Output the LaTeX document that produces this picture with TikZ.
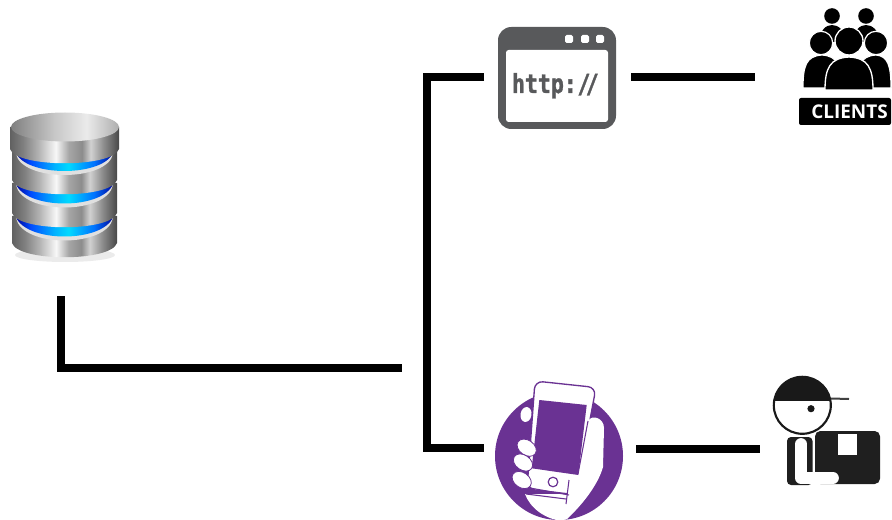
\documentclass[tikz,border=0pt]{standalone}
\usepackage{fontspec}
\usetikzlibrary{calc}
\newfontfamily\monofnt[FakeStretch=0.82,FakeBold=1.2]{DejaVu Sans Mono Bold}
\newfontfamily\capsfnt{Open Sans}
\definecolor{webgray}{HTML}{58595B}
\definecolor{plum}{HTML}{6A3293}
\pgfdeclarehorizontalshading{metal}{100bp}{
 color(0bp)=(black!62);color(25bp)=(black!62);color(31bp)=(black!50);color(38bp)=(black!30);color(46bp)=(black!3);color(52bp)=(black!35);color(58bp)=(black!45);color(62bp)=(black!18);color(68bp)=(black!45);color(75bp)=(black!72);color(100bp)=(black!72)}
\pgfdeclarehorizontalshading{glow}{100bp}{
 color(0bp)=(blue!60!black);color(25bp)=(blue!60!black);color(33bp)=(blue!70!cyan);color(45bp)=(cyan!70!blue);color(52bp)=(cyan!85!blue);color(65bp)=(blue!55!cyan);color(75bp)=(blue!60!black);color(100bp)=(blue!60!black)}
\pgfdeclarehorizontalshading{lid}{100bp}{
 color(0bp)=(black!50);color(25bp)=(black!50);color(45bp)=(black!22);color(60bp)=(black!8);color(75bp)=(black!32);color(100bp)=(black!32)}
\tikzset{
 link/.style={line width=5.4pt,line cap=butt,line join=miter},
 layer/.style={shading=metal},
 band/.style={shading=glow},
 finger/.style={fill=white,draw=plum,line width=.6pt},
 icontext/.style={inner sep=0pt,outer sep=0pt},
}
% #1 left x, #2 right x, #3 top of side, #4 bottom of side
\newcommand{\dblayer}[4]{%
 \path[layer] (#1,#3) -- (#1,#4) .. controls (#1+6,#4+19) and (#2-6,#4+19) .. (#2,#4) -- (#2,#3) -- cycle;}
% #1 left x, #2 right x, #3 side y, #4 depth of the control points
\newcommand{\dbband}[4]{%
 \fill[black!12] (#1+1,#3+4) .. controls (#1+7,#3+#4+4) and (#2-7,#3+#4+4) .. (#2-1,#3+4) -- cycle;
 \path[band] (#1,#3) .. controls (#1+6,#3+#4) and (#2-6,#3+#4) .. (#2,#3) -- cycle;}
\begin{document}
\begin{tikzpicture}[x=0.75pt,y=-0.75pt]
\useasboundingbox (0,0) rectangle (892,520);

% ---------- database ----------
\fill[black!8] (65,255) ellipse [x radius=50,y radius=7];
\dblayer{12}{117}{216}{243}
\dbband{15}{114}{214}{30}
\dblayer{12}{117}{183}{213}
\dbband{15}{114}{181}{30}
\dblayer{12}{117}{150}{180}
\dbband{15}{114}{150}{28}
\dblayer{10}{119}{127}{149}
\path[shading=lid] (65,127) ellipse [x radius=54,y radius=14.5];
\coordinate (dbOut) at (61,296);
\coordinate (dbElbow) at (61,368);
\coordinate (dbIn) at (402,368);

% ---------- web icon ----------
\fill[webgray,rounded corners=10] (498,27) rectangle (616,129);
\fill[white,rounded corners=2] (506,50) rectangle (608,122);
\foreach \x in {569,585,600}
  \fill[white,rounded corners=1.2] (\x-4,35) rectangle (\x+4,43);
\node[icontext,text=webgray,anchor=base west,font=\monofnt\fontsize{19.7}{22}\selectfont] (http) at (512,93) {http:\kern0.5pt/\kern-3.5pt/};
\coordinate (webL) at (484,77);
\coordinate (webR) at (631,77);

% ---------- clients ----------
\fill[black] (832,16) circle [radius=7.8];
\fill[black] (866,16) circle [radius=7.8];
\fill[black] (819,42) .. controls (820,30) and (826,25) .. (832,25) .. controls (838,25) and (845,30) .. (847,42) -- cycle;
\fill[black] (852,42) .. controls (854,30) and (860,25) .. (866,25) .. controls (872,25) and (879,30) .. (880,42) -- cycle;
\filldraw[black,draw=white,line width=.9pt] (821,43) circle [radius=11.7];
\filldraw[black,draw=white,line width=.9pt] (876,43) circle [radius=11.7];
\filldraw[black,draw=white,line width=.9pt] (803,88) .. controls (803,66) and (806,56) .. (822,55) .. controls (838,56) and (841,66) .. (841,88) -- cycle;
\filldraw[black,draw=white,line width=.9pt] (857,88) .. controls (857,66) and (860,56) .. (876,55) .. controls (888,56) and (891,66) .. (891,88) -- cycle;
\filldraw[black,draw=white,line width=1pt] (849,41) circle [radius=14];
\filldraw[black,draw=white,line width=1pt] (825,90) .. controls (825,68) and (830,58) .. (849,57) .. controls (868,58) and (873,68) .. (873,90) -- cycle;
\fill[black,rounded corners=1.5] (799,98) rectangle (891,125);
\node[icontext,text=white,font=\capsfnt\bfseries\fontsize{14.2}{16}\selectfont] (clients) at (849.5,111.5) {CLIENTS};
\coordinate (cliIn) at (755,77);

% ---------- phone in hand ----------
\fill[plum] (559,456) circle [radius=64];
\coordinate (pTL) at (535,381);
\coordinate (pTR) at (596,387.5);
\coordinate (pBL) at (527,489);
\fill[white,rotate around={-10:(526,414.5)}] (526,414.5) ellipse [x radius=5.5,y radius=7.5];
\filldraw[white,draw=plum,line width=1pt,rounded corners=6] (pTL) -- (pTR) -- (589,425) -- (578,495) -- (pBL) -- cycle;
\begin{scope}
  \clip (559,456) circle [radius=64];
  \fill[white] (525,494) .. controls (530,508) and (545,519) .. (562,521)
     -- (567,519) .. controls (582,505) and (598,485) .. (603,467)
     -- (604,428) .. controls (604,418) and (592,414) .. (588,421)
     -- (578,474) -- (570,482) -- (567,494) -- cycle;
\end{scope}
\draw[plum,line width=.8pt] (588,421) -- (578,474);
\draw[plum,line width=.8pt] (530,488) -- (569,495);
\draw[plum,line width=.8pt] (526,494) -- (566,499);
\draw[plum,line width=.8pt] (569,480) -- (566,504);
\fill[plum] (539.3,400) -- (586.7,405) -- (578.3,475) -- (531.7,468.3) -- cycle;
\draw[plum,line width=.9pt] (553,482) circle [radius=4.8];
\path[finger,rotate around={-35:(526.7,447.7)}] (526.7,447.7) ellipse [x radius=10.5,y radius=7.5];
\path[finger,rotate around={-35:(523,462.5)}] (523,462.5) ellipse [x radius=10.5,y radius=7.5];
\path[finger,rotate around={-35:(521.7,480)}] (521.7,480) ellipse [x radius=10.5,y radius=7.5];
\coordinate (mobL) at (484,448);
\coordinate (mobR) at (636,449);

% ---------- delivery man ----------
\fill[black!88,rounded corners=4] (815,431) rectangle (880,484);
\fill[white] (838.3,434) rectangle (856.7,455);
\fill[black!88,rounded corners=3] (787,437) -- (812.5,437) -- (812.5,485) -- (787,485) -- cycle;
\draw[white,line width=.6pt] (814,434) -- (814,470);
\draw[white,line width=8.8pt,line cap=round,line join=round] (801,444) -- (801,478) -- (833,478);
\begin{scope}
  \clip (760,370) rectangle (840,400);
  \fill[black!90] (802.3,405.3) circle [radius=29];
\end{scope}
\draw[black!90,line width=1.6pt] (802.3,405.3) circle [radius=28.5];
\draw[black!75,line width=1.5pt] (831,398.5) -- (849,399);
\fill[black!90] (811,408.7) circle [radius=3.6];
\coordinate (boxIn) at (760,449);

% ---------- connectors ----------
\draw[link] (dbOut) -- (dbElbow) -- (dbIn);
\draw[link] (webL) -- (427,77) -- (427,448) -- (mobL);
\draw[link] (webR) -- (cliIn);
\draw[link] (mobR) -- (boxIn);
\end{tikzpicture}
\end{document}
